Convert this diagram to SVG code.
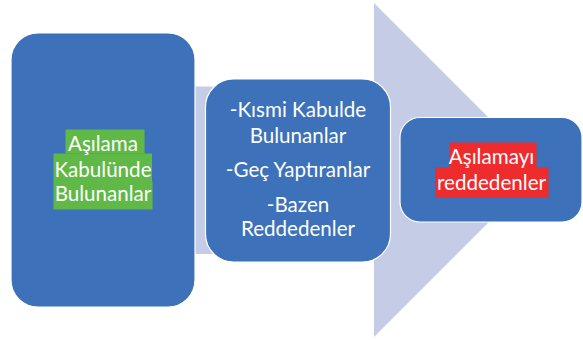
<svg xmlns="http://www.w3.org/2000/svg" width="583" height="340" viewBox="0 0 583 340">
<style>
.box{fill:#3D71B9;stroke:#FFFFFF;stroke-width:1.2}
.t{font-family:Lato,"Open Sans","DejaVu Sans",sans-serif;font-size:20.6px;fill:#FFFFFF;text-anchor:middle}
.hg{fill:#60B847}
.hr{fill:#EE2C2E}
</style>
<rect width="583" height="340" fill="#FFFFFF"/>
<g id="connectors">
<polygon points="20,86.5 374,86.5 374,3 541,170 374,337 374,254 20,254" fill="#C5CDE6"/>
</g>
<g id="node1">
<rect class="box" x="11" y="33" width="184" height="274" rx="27" ry="27"/>
<rect class="hg" x="65.5" y="129.5" width="79" height="24"/>
<rect class="hg" x="53.5" y="153.5" width="98.5" height="27.5"/>
<rect class="hg" x="53.5" y="181" width="99" height="28.5"/>
<text class="t" x="103" y="151">Aşılama</text>
<text class="t" x="103" y="176.5">Kabulünde</text>
<text class="t" x="103" y="200.5">Bulunanlar</text>
</g>
<g id="node2">
<rect class="box" x="205.5" y="79" width="185" height="183" rx="28" ry="28"/>
<text class="t" x="298" y="117">-Kısmi Kabulde</text>
<text class="t" x="298" y="142.5">Bulunanlar</text>
<text class="t" x="298" y="177">-Geç Yaptıranlar</text>
<text class="t" x="298" y="211.5">-Bazen</text>
<text class="t" x="298" y="236">Reddedenler</text>
</g>
<g id="node3">
<rect class="box" x="400" y="117.5" width="182" height="104.5" rx="20" ry="20"/>
<rect class="hr" x="449.5" y="142.5" width="87" height="25"/>
<rect class="hr" x="435" y="167.5" width="113.5" height="30"/>
<text class="t" x="491.5" y="163.5">Aşılamayı</text>
<text class="t" x="491.5" y="190">reddedenler</text>
</g>
</svg>
